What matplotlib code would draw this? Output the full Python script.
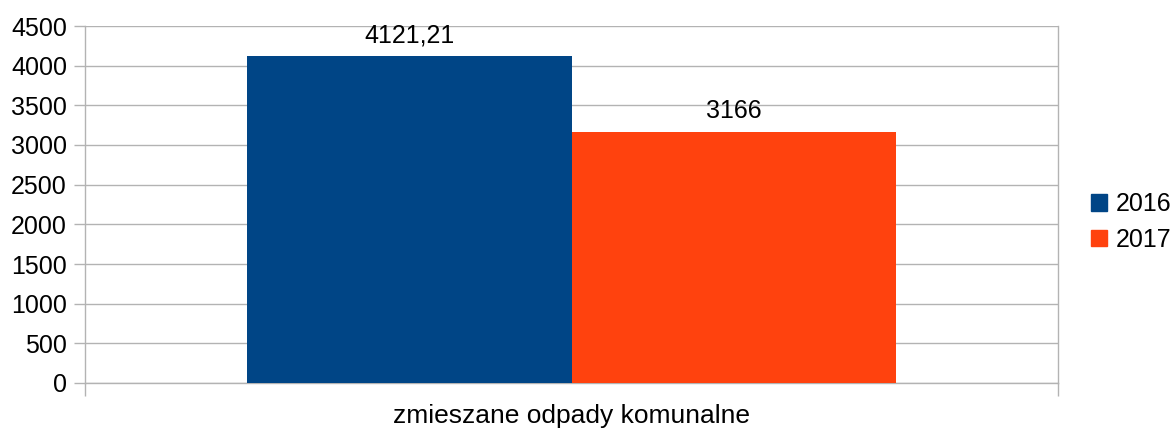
import matplotlib
matplotlib.use("Agg")
import matplotlib.pyplot as plt
from matplotlib.patches import Rectangle

categories = ["zmieszane odpady komunalne"]
series_names = ["2016", "2017"]
values_2016 = [4121.21]
values_2017 = [3166]
value_labels_2016 = ["4121,21"]
value_labels_2017 = ["3166"]
colors = ["#004586", "#ff420e"]

plt.rcParams['font.family'] = ['Liberation Sans', 'DejaVu Sans']
FS = 18
W, H = 1172, 430
fig = plt.figure(figsize=(W/100, H/100), dpi=100)
left, right, top, bottom = 85, 1058, 26, 383
ax = fig.add_axes([left/W, 1-bottom/H, (right-left)/W, (bottom-top)/H])

bw = 0.334
x = [0]
b1 = ax.bar([xi - bw/2 for xi in x], values_2016, width=bw, color=colors[0], label=series_names[0], zorder=3)
b2 = ax.bar([xi + bw/2 for xi in x], values_2017, width=bw, color=colors[1], label=series_names[1], zorder=3)
for bars, labs in ((b1, value_labels_2016), (b2, value_labels_2017)):
    for rect, lab in zip(bars, labs):
        ax.annotate(lab, (rect.get_x() + rect.get_width()/2, rect.get_height()),
                    xytext=(0, 6), textcoords="offset points", ha="center", va="bottom",
                    fontsize=FS, color="#000000")

ax.set_xlim(-0.5, 0.5)
ax.set_ylim(0, 4500)
ax.set_yticks(range(0, 4501, 500))
ax.set_yticklabels([str(v) for v in range(0, 4501, 500)], fontsize=FS)
ax.yaxis.grid(True, color="#b3b3b3", linewidth=1, zorder=0)
ax.set_xticks([-0.5, 0.5])
ax.set_xticklabels(["", ""])
ax.tick_params(axis="x", length=9, color="#b3b3b3", width=1)
ax.tick_params(axis="y", length=8, color="#b3b3b3", width=1, pad=5)
ax.spines["top"].set_visible(False)
for s in ["left", "right", "bottom"]:
    ax.spines[s].set_color("#b3b3b3")
    ax.spines[s].set_linewidth(1)
ax.text(0, -0.06, categories[0], transform=ax.get_xaxis_transform(), ha="center", va="top", fontsize=19)

leg = fig.legend(handles=[Rectangle((0,0),1,1,color=c) for c in colors], labels=series_names,
                 loc="center left", bbox_to_anchor=(1091/W, 1-222/H), frameon=False, fontsize=FS,
                 borderpad=0, borderaxespad=0,
                 handlelength=0.64, handleheight=0.64, handletextpad=0.35, labelspacing=0.45)

fig.savefig("out.png", dpi=100, facecolor="white")
